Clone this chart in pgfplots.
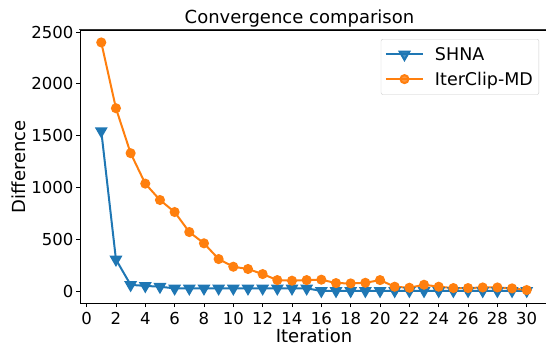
\documentclass[border=0pt]{standalone}
\usepackage{pgfplots}
\pgfplotsset{compat=1.18}
\usepackage{fontspec}
\setmainfont{DejaVu Sans}
\definecolor{tabblue}{HTML}{1F77B4}
\definecolor{taborange}{HTML}{FF7F0E}
\begin{document}
\begin{tikzpicture}
\begin{axis}[
  scale only axis, width=468pt, height=273.5pt,
  at={(0,0)}, anchor=south west,
  xmin=-0.45, xmax=31.45, ymin=-120, ymax=2520,
  xtick={0,2,...,30}, ytick={0,500,...,2500},
  axis line style={line width=0.8pt, black},
  tick style={line width=0.8pt, black},
  tick align=outside, tick pos=left,
  major tick length=3.5pt,
  /pgf/number format/assume math mode=true,
  /pgf/number format/1000 sep={},
  ticklabel style={font=\fontsize{16.5}{19}\selectfont},
  yticklabel style={inner sep=0pt, anchor=east, xshift=-3pt},
  xticklabel style={inner sep=0pt, anchor=north, yshift=-5.5pt},
  xlabel={Iteration}, ylabel={Difference},
  label style={font=\fontsize{18}{21}\selectfont},
  xlabel style={at={(axis description cs:0.5,-0.1444)}, anchor=base},
  ylabel style={at={(axis description cs:-0.1175,0.5)}, anchor=base},
  title={Convergence comparison},
  title style={at={(axis description cs:0.469,1.0146)}, anchor=base, yshift=-3.5pt, font=\fontsize{18}{21}\selectfont},
  legend cell align=left,
  legend style={at={(axis description cs:0.981,0.967)}, anchor=north east,
    draw=black!20, rounded corners=2pt, fill=white, fill opacity=0.8, text opacity=1,
    font=\fontsize{17.5}{20}\selectfont, inner xsep=4pt, inner ysep=6pt,
    nodes={inner sep=2pt}, row sep=6pt,
    /tikz/every odd column/.append style={column sep=9pt}},
  legend image code/.code={\draw[mark repeat=2,mark phase=2,#1] plot coordinates {(0pt,0pt)(18.5pt,0pt)(37pt,0pt)};},
]
\addplot[tabblue, line width=2pt, mark=triangle*, mark size=5.5pt, mark options={rotate=180, solid}] coordinates {
(1,1545)(2,305)(3,60)(4,50)(5,42)(6,26)(7,26)(8,26)(9,26)(10,26)(11,26)(12,26)(13,26)(14,26)(15,26)
(16,2)(17,2)(18,2)(19,2)(20,2)(21,2)(22,2)(23,2)(24,2)(25,2)(26,2)(27,2)(28,2)(29,2)(30,3)};
\addlegendentry{SHNA}
\addplot[taborange, line width=2pt, mark=*, mark size=4pt, mark options={solid}] coordinates {
(1,2400)(2,1765)(3,1331)(4,1037)(5,879)(6,763)(7,570)(8,461)(9,309)(10,235)(11,213)(12,164)(13,106)(14,100)(15,106)
(16,110)(17,77)(18,74)(19,80)(20,106)(21,42)(22,32)(23,61)(24,42)(25,29)(26,29)(27,35)(28,35)(29,26)(30,10)};
\addlegendentry{IterClip-MD}
\end{axis}
\draw[line width=1pt, black!80] (-0.5pt,273.5pt) -- (470pt,273.5pt);
\pgfresetboundingbox
\path[use as bounding box] (-80pt,-42.5pt) rectangle (466pt,303.5pt);
\end{tikzpicture}
\end{document}
